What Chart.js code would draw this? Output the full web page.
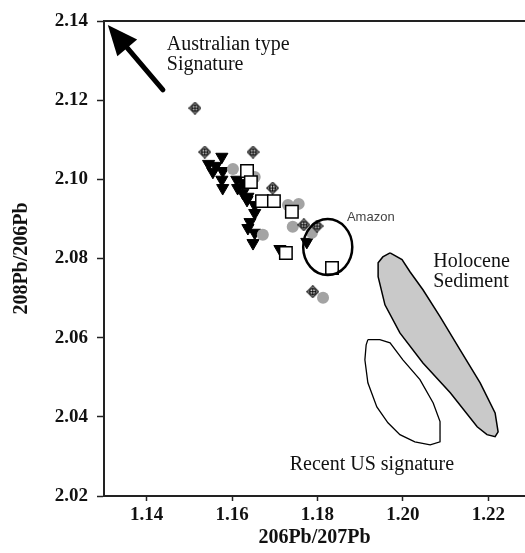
<!DOCTYPE html>
<html>
<head>
<meta charset="utf-8">
<script src="https://cdn.jsdelivr.net/npm/chart.js@4"></script>
<style>
  body { margin: 0; background: #fff; }
  canvas { display: block; }
</style>
</head>
<body>
<canvas id="leadChart" width="525" height="553"></canvas>
<script>
// tick labels
const xTicks = [1.14, 1.16, 1.18, 1.20, 1.22];
const yTicks = [2.02, 2.04, 2.06, 2.08, 2.10, 2.12, 2.14];

// samples (206Pb/207Pb, 208Pb/206Pb)
const triX = [1.1545, 1.1562, 1.1576, 1.1555, 1.1578, 1.1576, 1.1578, 1.1611, 1.1613, 1.1625, 1.1635,
              1.1625, 1.1637, 1.1653, 1.1653, 1.1637, 1.1653, 1.1649, 1.1642, 1.1712, 1.1775];
const triY = [2.1039, 2.1034, 2.1057, 2.1019, 2.1021, 2.0999, 2.0978, 2.0999, 2.0978, 2.0966, 2.0948,
              2.0991, 2.0956, 2.0935, 2.0915, 2.0877, 2.0865, 2.0839, 2.0892, 2.0824, 2.0842];
const sqX = [1.1635, 1.1644, 1.1670, 1.1698, 1.1740, 1.1726, 1.1834];
const sqY = [2.1021, 2.0993, 2.0945, 2.0945, 2.0918, 2.0814, 2.0776];
const greyX = [1.1602, 1.1653, 1.1731, 1.1756, 1.1742, 1.1672, 1.1787, 1.1813];
const greyY = [2.1026, 2.1006, 2.0935, 2.0938, 2.0880, 2.0860, 2.0865, 2.0701];
const crossX = [1.1513, 1.1536, 1.1649, 1.1695, 1.1768, 1.1799, 1.1789];
const crossY = [2.1180, 2.1069, 2.1069, 2.0978, 2.0885, 2.0882, 2.0716];

// fields
const holoX = [1.1970, 1.1998, 1.2017, 1.2047, 1.2087, 1.2134, 1.2181, 1.2216, 1.2223, 1.2216,
               1.2197, 1.2174, 1.2111, 1.2047, 1.1993, 1.1958, 1.1942, 1.1942, 1.1953, 1.1970];
const holoY = [2.0814, 2.0797, 2.0766, 2.0721, 2.0653, 2.0569, 2.0486, 2.0410, 2.0362, 2.0350,
               2.0355, 2.0375, 2.0461, 2.0536, 2.0612, 2.0683, 2.0754, 2.0789, 2.0804, 2.0814];
const usX = [1.1918, 1.1946, 1.1970, 1.2000, 1.2040, 1.2071, 1.2087, 1.2087, 1.2064, 1.2028,
             1.1993, 1.1965, 1.1939, 1.1918, 1.1911, 1.1914, 1.1918];
const usY = [2.0595, 2.0595, 2.0587, 2.0544, 2.0494, 2.0435, 2.0388, 2.0337, 2.0329, 2.0337,
             2.0355, 2.0385, 2.0425, 2.0486, 2.0544, 2.0582, 2.0595];
const amazonCenter = [1.1824, 2.0829];
const amazonRadius = [0.00575, 0.00707];
const arrowFrom = [1.1438, 2.1226];
const arrowTo = [1.1309, 2.1390];

const notes = [
  { text: 'Australian type', x: 1.1447, y: 2.1327, font: '20px "Liberation Serif"', color: '#111' },
  { text: 'Signature', x: 1.1447, y: 2.1276, font: '20px "Liberation Serif"', color: '#111' },
  { text: 'Holocene', x: 1.2071, y: 2.0779, font: '20px "Liberation Serif"', color: '#111' },
  { text: 'Sediment', x: 1.2071, y: 2.0728, font: '20px "Liberation Serif"', color: '#111' },
  { text: 'Recent US signature', x: 1.1735, y: 2.0266, font: '20px "Liberation Serif"', color: '#111' },
  { text: 'Amazon', x: 1.1869, y: 2.0895, font: '13px "Liberation Sans"', color: '#444' }
];

const pts = (xs, ys) => xs.map((x, i) => ({ x: x, y: ys[i] }));

function crossDiamond() {
  const c = document.createElement('canvas');
  c.width = 13; c.height = 13;
  const g = c.getContext('2d');
  g.lineWidth = 1.1;
  g.strokeStyle = '#000';
  g.fillStyle = '#fff';
  g.beginPath();
  g.moveTo(6.5, 0.7); g.lineTo(12.3, 6.5); g.lineTo(6.5, 12.3); g.lineTo(0.7, 6.5);
  g.closePath();
  g.fill(); g.stroke();
  g.beginPath(); g.arc(6.5, 6.5, 3, 0, 2 * Math.PI); g.stroke();
  g.beginPath();
  g.moveTo(6.5, 2.6); g.lineTo(6.5, 10.4);
  g.moveTo(2.6, 6.5); g.lineTo(10.4, 6.5);
  g.stroke();
  return c;
}

const extras = {
  id: 'extras',
  afterDatasetsDraw(chart) {
    const { ctx, chartArea, scales: { x, y } } = chart;
    ctx.save();
    // top frame line
    ctx.strokeStyle = '#222';
    ctx.lineWidth = 2;
    ctx.beginPath();
    ctx.moveTo(chartArea.left, chartArea.top);
    ctx.lineTo(chart.width, chartArea.top);
    ctx.stroke();

    // Amazon ellipse
    const cx = x.getPixelForValue(amazonCenter[0]);
    const cy = y.getPixelForValue(amazonCenter[1]);
    const rx = Math.abs(x.getPixelForValue(amazonCenter[0] + amazonRadius[0]) - cx);
    const ry = Math.abs(y.getPixelForValue(amazonCenter[1] + amazonRadius[1]) - cy);
    ctx.lineWidth = 2.5;
    ctx.strokeStyle = '#000';
    ctx.beginPath();
    ctx.ellipse(cx, cy, rx, ry, 0, 0, 2 * Math.PI);
    ctx.stroke();

    // arrow
    const x0 = x.getPixelForValue(arrowFrom[0]), y0 = y.getPixelForValue(arrowFrom[1]);
    const x1 = x.getPixelForValue(arrowTo[0]), y1 = y.getPixelForValue(arrowTo[1]);
    const ang = Math.atan2(y1 - y0, x1 - x0);
    const headLen = 30, headW = 13;
    const bx = x1 - headLen * Math.cos(ang), by = y1 - headLen * Math.sin(ang);
    ctx.lineWidth = 5;
    ctx.lineCap = 'round';
    ctx.beginPath();
    ctx.moveTo(x0, y0);
    ctx.lineTo(bx, by);
    ctx.stroke();
    ctx.fillStyle = '#000';
    ctx.beginPath();
    ctx.moveTo(x1, y1);
    ctx.lineTo(bx + headW * Math.sin(ang), by - headW * Math.cos(ang));
    ctx.lineTo(bx - headW * Math.sin(ang), by + headW * Math.cos(ang));
    ctx.closePath();
    ctx.fill();

    // text notes
    ctx.textAlign = 'left';
    ctx.textBaseline = 'alphabetic';
    notes.forEach(n => {
      ctx.font = n.font;
      ctx.fillStyle = n.color;
      ctx.fillText(n.text, x.getPixelForValue(n.x), y.getPixelForValue(n.y));
    });
    ctx.restore();
  }
};

const tickFont = { family: '"Liberation Serif", serif', size: 19, weight: 'bold' };
const titleFont = { family: '"Liberation Serif", serif', size: 20, weight: 'bold' };

new Chart(document.getElementById('leadChart'), {
  type: 'scatter',
  data: {
    datasets: [
      {
        label: 'cross', data: pts(crossX, crossY), order: 0,
        pointStyle: crossDiamond(), pointRadius: 6.5
      },
      {
        label: 'square', data: pts(sqX, sqY), order: 1,
        pointStyle: 'rect', pointRadius: 8.8,
        backgroundColor: '#fff', borderColor: '#000', borderWidth: 1.5
      },
      {
        label: 'grey', data: pts(greyX, greyY), order: 2,
        pointStyle: 'circle', pointRadius: 6,
        backgroundColor: '#a3a3a3', borderColor: '#a3a3a3', borderWidth: 0
      },
      {
        label: 'triangle', data: pts(triX, triY), order: 3,
        pointStyle: 'triangle', pointRotation: 180, pointRadius: 7,
        backgroundColor: '#000', borderColor: '#000', borderWidth: 1
      },
      {
        label: 'Holocene', data: pts(holoX, holoY), order: 5,
        showLine: true, tension: 0, pointRadius: 0,
        borderColor: '#000', borderWidth: 1.5,
        backgroundColor: '#c9c9c9', fill: 'shape'
      },
      {
        label: 'Recent US', data: pts(usX, usY), order: 5,
        showLine: true, tension: 0, pointRadius: 0,
        borderColor: '#000', borderWidth: 1.3, fill: false
      }
    ]
  },
  options: {
    responsive: false,
    animation: false,
    devicePixelRatio: 1,
    events: [],
    layout: { autoPadding: false, padding: { top: 21, right: 0, left: 0, bottom: 0 } },
    plugins: { legend: { display: false }, tooltip: { enabled: false } },
    scales: {
      x: {
        type: 'linear',
        min: 1.13,
        max: 1.2286,
        afterBuildTicks: s => { s.ticks = xTicks.map(v => ({ value: v })); },
        afterFit: s => { s.height = 57; s.paddingLeft = 0; s.paddingRight = 0; },
        ticks: {
          font: tickFont, color: '#111', padding: 3, maxRotation: 0,
          callback: v => v.toFixed(2)
        },
        grid: { drawOnChartArea: false, tickLength: 5, tickColor: '#222', tickWidth: 1.5 },
        border: { color: '#222', width: 2 },
        title: { display: true, text: '206Pb/207Pb', font: titleFont, color: '#111', padding: { top: 0, bottom: 3 } }
      },
      y: {
        type: 'linear',
        min: 2.02,
        max: 2.14,
        afterBuildTicks: s => { s.ticks = yTicks.map(v => ({ value: v })); },
        afterFit: s => { s.width = 104; s.paddingTop = 0; s.paddingBottom = 0; },
        ticks: {
          font: tickFont, color: '#111', padding: 9,
          callback: v => v.toFixed(2)
        },
        grid: { drawOnChartArea: false, tickLength: 7, tickColor: '#222', tickWidth: 1.5 },
        border: { color: '#222', width: 2 },
        title: { display: true, text: '208Pb/206Pb', font: titleFont, color: '#111', padding: { top: 10, bottom: 0 } }
      }
    }
  },
  plugins: [extras]
});
</script>
</body>
</html>
